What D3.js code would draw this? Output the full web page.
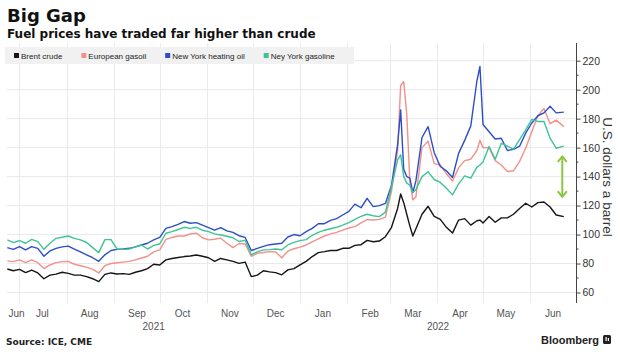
<!DOCTYPE html>
<html><head><meta charset="utf-8">
<script src="https://cdn.jsdelivr.net/npm/d3@7"></script>
<style>
html,body{margin:0;padding:0;background:#fff;}
svg{display:block;}
</style></head>
<body>
<svg id="c" width="620" height="355"></svg>
<script>
const dates = [
"2021-06-23","2021-06-27","2021-07-01","2021-07-05","2021-07-09","2021-07-13","2021-07-17","2021-07-21","2021-07-25","2021-07-29",
"2021-08-02","2021-08-06","2021-08-10","2021-08-14","2021-08-18","2021-08-22","2021-08-26","2021-08-30","2021-09-03","2021-09-07",
"2021-09-11","2021-09-15","2021-09-19","2021-09-23","2021-09-27","2021-10-01","2021-10-05","2021-10-09","2021-10-13","2021-10-17",
"2021-10-21","2021-10-25","2021-10-29","2021-11-02","2021-11-06","2021-11-10","2021-11-14","2021-11-18","2021-11-22","2021-11-26",
"2021-11-30","2021-12-04","2021-12-08","2021-12-12","2021-12-16","2021-12-20","2021-12-24","2021-12-28","2022-01-01","2022-01-05",
"2022-01-09","2022-01-13","2022-01-17","2022-01-21","2022-01-25","2022-01-29","2022-02-02","2022-02-06","2022-02-10","2022-02-14",
"2022-02-18","2022-02-22","2022-02-26","2022-03-02","2022-03-06","2022-03-08","2022-03-10","2022-03-12","2022-03-14","2022-03-16",
"2022-03-18","2022-03-22","2022-03-26","2022-03-30","2022-04-03","2022-04-07","2022-04-11","2022-04-15","2022-04-19","2022-04-23",
"2022-04-27","2022-04-29","2022-05-01","2022-05-05","2022-05-09","2022-05-13","2022-05-17","2022-05-21","2022-05-25","2022-05-29",
"2022-06-02","2022-06-06","2022-06-10","2022-06-14","2022-06-18","2022-06-23"];

const brentCrude = [
76.2,75.0,76.0,73.7,75.5,73.5,69.5,72.0,72.7,74.0,
73.2,72.0,72.0,71.0,69.5,67.5,72.5,73.5,72.8,73.0,
72.5,74.0,75.0,76.5,79.5,79.0,82.5,83.5,84.2,84.8,
85.2,85.9,85.0,84.0,81.5,83.5,82.5,81.5,80.1,81.0,
71.0,72.0,75.0,74.2,73.7,72.2,75.6,76.5,79.0,81.5,
84.8,87.5,88.2,89.0,89.0,90.5,90.5,92.5,93.0,96.0,
95.0,95.5,98.5,105.0,118.0,128.0,122.0,114.0,106.0,99.0,
104.0,114.0,119.5,112.5,110.5,105.0,101.0,110.0,111.0,106.5,
109.5,110.0,108.0,112.4,108.5,111.5,111.5,114.0,118.0,121.6,
119.0,122.0,122.5,119.0,113.5,112.4];

const europeanGasoil = [
81.8,81.3,82.5,80.6,82.5,80.6,76.5,79.0,80.6,81.3,
81.5,79.5,78.5,77.5,76.0,73.5,78.5,80.0,80.5,81.0,
81.5,82.5,83.8,85.0,88.0,89.4,96.7,98.0,99.0,99.0,
100.4,101.0,97.8,96.3,96.8,97.5,94.0,91.0,93.8,93.5,
85.0,87.0,87.6,88.2,88.0,84.0,88.5,90.2,91.3,92.8,
95.0,97.0,99.0,100.5,101.5,103.0,104.5,105.5,108.0,110.3,
110.0,110.5,112.0,130.0,158.0,203.0,205.5,183.0,137.0,124.0,
126.0,160.0,164.5,149.0,148.0,142.0,137.0,146.0,151.0,152.0,
158.0,165.0,160.0,160.0,151.0,148.0,143.5,144.0,150.5,159.6,
171.0,182.0,187.0,176.5,179.0,174.5];

const nyHeatingOil = [
91.0,89.8,91.7,89.4,91.7,90.5,85.0,88.7,90.5,91.5,
92.0,90.0,88.0,86.0,84.0,81.5,86.0,89.0,89.8,90.0,
90.5,91.5,92.8,94.0,96.3,98.0,104.3,105.5,107.0,109.0,
107.8,108.2,106.5,104.8,103.0,104.8,102.5,101.5,99.2,98.0,
89.0,90.4,91.8,93.0,93.5,94.0,98.3,100.0,99.2,102.0,
104.3,107.5,107.5,109.8,111.0,113.5,116.0,121.0,118.5,125.0,
119.3,120.0,121.5,134.0,162.0,186.0,145.0,140.0,139.0,129.0,
137.0,167.0,174.5,156.5,147.0,144.0,139.4,156.0,165.0,175.0,
206.0,216.0,176.0,171.0,166.0,166.5,158.0,158.8,161.0,170.0,
177.0,182.0,184.0,188.5,184.0,184.5];

const nyGasoline = [
96.3,94.4,95.8,94.0,96.7,95.1,89.8,94.0,97.4,98.1,
99.0,97.4,96.3,94.5,91.0,87.5,96.5,96.5,90.0,89.8,
90.0,91.5,92.8,90.0,92.5,93.5,100.9,102.0,103.5,105.0,
104.3,105.0,103.0,102.0,100.5,99.7,98.8,97.8,95.2,96.0,
86.0,88.0,89.4,89.6,90.0,89.5,92.8,94.6,95.8,96.5,
99.5,101.5,103.0,104.0,105.0,106.5,108.3,110.5,112.5,114.0,
113.0,112.4,115.5,133.0,151.6,155.0,140.0,135.5,134.0,129.0,
131.0,140.0,143.3,138.0,136.0,132.0,127.4,135.0,140.5,139.0,
146.5,148.0,150.0,160.8,152.0,163.0,161.0,159.0,165.5,172.3,
179.5,178.0,178.0,166.5,159.6,161.0];

const seriesNames = ["Brent crude","European gasoil","New York heating oil","Ney York gasoline"];
const seriesColors = ["#151515","#f2918b","#2c4ec6","#3cc497"];
const yTicks = [60,80,100,120,140,160,180,200,220];
const monthLabels = ["Jun","Jul","Aug","Sep","Oct","Nov","Dec","Jan","Feb","Mar","Apr","May","Jun"];
const yearLabels = ["2021","2022"];
const gapArrowDate = "2022-06-22";
const gapArrowValues = [126, 154];

const parse = d3.timeParse("%Y-%m-%d");
const dts = dates.map(parse);
const allSeries = [brentCrude, europeanGasoil, nyHeatingOil, nyGasoline];

const svg = d3.select("#c");
const W = 620, H = 355;
const plotLeft = 7.3, plotRight = 576, plotTop = 43, plotBottom = 303;

const x = d3.scaleTime()
  .domain([new Date(2021,5,23), new Date(2022,6,1)])
  .range([plotLeft, plotRight]);
const y = d3.scaleLinear().domain([60,220]).range([292.5, 60.7]);

// gridlines
const grid = svg.append("g");
grid.selectAll("line.h").data(yTicks).join("line")
  .attr("x1", 7).attr("x2", plotRight)
  .attr("y1", d => y(d)).attr("y2", d => y(d))
  .attr("stroke", "#e9e9e9").attr("stroke-width", 1);
const monthStarts = d3.timeMonth.range(new Date(2021,6,1), new Date(2022,5,2));
grid.selectAll("line.v").data(monthStarts).join("line")
  .attr("x1", d => Math.round(x(d)) + 0.5).attr("x2", d => Math.round(x(d)) + 0.5)
  .attr("y1", plotTop).attr("y2", plotBottom)
  .attr("stroke", "#ebebeb").attr("stroke-width", 1);

// lines
const line = d3.line().x((d,i) => x(dts[i])).y(d => y(d)).curve(d3.curveLinear);
svg.append("g").selectAll("path").data(allSeries).join("path")
  .attr("d", d => line(d))
  .attr("fill", "none")
  .attr("stroke", (d,i) => seriesColors[i])
  .attr("stroke-width", 1.4)
  .attr("stroke-linejoin", "round");

// gap arrow
const ax = x(parse(gapArrowDate));
const ay1 = y(gapArrowValues[1]), ay2 = y(gapArrowValues[0]);
const arrow = svg.append("g").attr("stroke", "#8dc63f").attr("stroke-width", 2).attr("fill", "none")
  .attr("stroke-linecap", "round").attr("stroke-linejoin", "round");
arrow.append("line").attr("x1", ax).attr("x2", ax).attr("y1", ay1 + 1).attr("y2", ay2 - 1);
arrow.append("path").attr("d", `M${ax-4},${ay1+5}L${ax},${ay1}L${ax+4},${ay1+5}`);
arrow.append("path").attr("d", `M${ax-4},${ay2-5}L${ax},${ay2}L${ax+4},${ay2-5}`);

// right axis
svg.append("line").attr("x1", plotRight + 0.5).attr("x2", plotRight + 0.5)
  .attr("y1", plotTop).attr("y2", plotBottom).attr("stroke", "#444").attr("stroke-width", 1);
const minor = d3.range(70, 220, 20);
svg.append("g").selectAll("line").data(minor).join("line")
  .attr("x1", plotRight).attr("x2", plotRight + 2.5)
  .attr("y1", d => y(d)).attr("y2", d => y(d)).attr("stroke", "#444");
const axisG = svg.append("g").attr("transform", `translate(${plotRight + 0.5},0)`)
  .call(d3.axisRight(y).tickValues(yTicks).tickSize(4).tickPadding(2));
axisG.select(".domain").remove();
axisG.selectAll(".tick line").attr("stroke", "#444");
axisG.selectAll(".tick text").attr("font-family", "'Liberation Sans', Arial, sans-serif")
  .attr("font-size", 10.5).attr("fill", "#333");

svg.append("text").attr("transform", "translate(607,177) rotate(90)")
  .attr("text-anchor", "middle").attr("dominant-baseline", "middle")
  .attr("font-family", "'Liberation Sans', Arial, sans-serif").attr("font-size", 13.5)
  .attr("fill", "#333").text("U.S. dollars a barrel");

// month labels
const monthMids = d3.timeMonth.range(new Date(2021,5,1), new Date(2022,6,1)).map(d => new Date(d.getFullYear(), d.getMonth(), 16));
const ml = svg.append("g").attr("font-family", "'Liberation Sans', Arial, sans-serif")
  .attr("font-size", 10).attr("fill", "#555");
ml.selectAll("text").data(monthMids).join("text")
  .attr("x", d => x(d)).attr("y", 317).attr("text-anchor", "middle")
  .text((d,i) => monthLabels[i])
  .each(function() {
    const w = this.getComputedTextLength();
    const cx = +this.getAttribute("x");
    if (cx - w/2 < 8.5) this.setAttribute("x", 8.5 + w/2);
  });
const yb = x(new Date(2022,0,1));
const yearPos = [(plotLeft + yb)/2, (yb + plotRight)/2];
ml.selectAll("text.yr").data(yearLabels).join("text").attr("class","yr")
  .attr("x", (d,i) => yearPos[i]).attr("y", 330).attr("text-anchor", "middle").text(d => d);

// legend
svg.append("rect").attr("x", 5).attr("y", 47).attr("width", 349).attr("height", 17).attr("fill", "#f1f1f1");
const lg = svg.append("g").attr("font-family", "'Liberation Sans', Arial, sans-serif").attr("font-size", 8).attr("fill", "#222");
let lx = 14;
seriesNames.forEach((n, i) => {
  lg.append("rect").attr("x", lx).attr("y", 53).attr("width", 5).attr("height", 5).attr("fill", seriesColors[i]);
  const t = lg.append("text").attr("x", lx + 7).attr("y", 58.5).text(n);
  lx = lx + 7 + t.node().getComputedTextLength() + 19;
});

// titles
svg.append("text").attr("x", 7).attr("y", 22).attr("font-family", "'DejaVu Sans', sans-serif")
  .attr("font-weight", "bold").attr("font-size", 18).attr("fill", "#111").text("Big Gap");
svg.append("text").attr("x", 7).attr("y", 38).attr("font-family", "'DejaVu Sans', sans-serif")
  .attr("font-weight", "bold").attr("font-size", 12).attr("fill", "#111").text("Fuel prices have traded far higher than crude");

// footer
svg.append("text").attr("x", 6).attr("y", 345).attr("font-family", "'DejaVu Sans', sans-serif")
  .attr("font-weight", "bold").attr("font-size", 9).attr("fill", "#222").text("Source: ICE, CME");
svg.append("text").attr("x", 599).attr("y", 344).attr("text-anchor", "end")
  .attr("font-family", "'Liberation Sans', Arial, sans-serif").attr("font-weight", "bold")
  .attr("font-size", 11).attr("fill", "#222").text("Bloomberg");
svg.append("rect").attr("x", 603).attr("y", 335).attr("width", 8).attr("height", 9).attr("rx", 1.5).attr("fill", "#222");
svg.append("rect").attr("x", 605.5).attr("y", 337).attr("width", 1.2).attr("height", 4).attr("fill", "#fff");
svg.append("rect").attr("x", 607.8).attr("y", 338).attr("width", 1.2).attr("height", 3).attr("fill", "#fff");
</script>
</body></html>
